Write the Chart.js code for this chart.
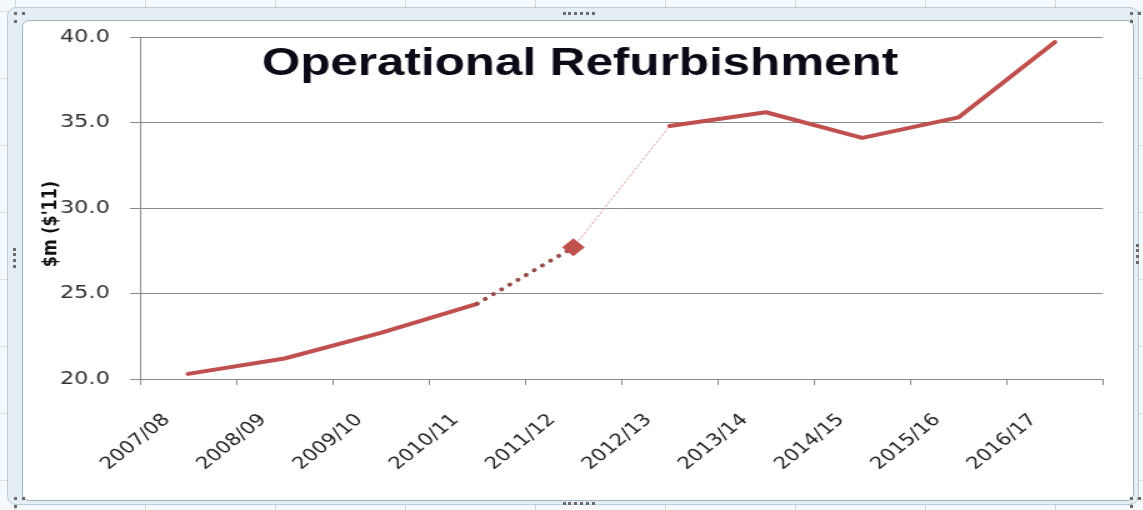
<!DOCTYPE html>
<html>
<head>
<meta charset="utf-8">
<script src="https://cdn.jsdelivr.net/npm/chart.js@4"></script>
<style>
  html, body { margin: 0; padding: 0; }
  body {
    width: 1143px; height: 510px; overflow: hidden; position: relative;
    background-color: #f6f9fb;
    background-image:
      linear-gradient(to right, #c9d8e2 1px, transparent 1px),
      linear-gradient(to bottom, #d3e0e8 1px, transparent 1px);
    background-size: 130px 67px;
    background-position: 15px 11px;
  }
  .band {
    position: absolute; left: 7px; top: 7px; width: 1132px; height: 498px;
    background: #e4eef4; border: 1px solid #b9cdd9; border-radius: 9px;
    box-sizing: border-box;
  }
  .frame {
    position: absolute; left: 22px; top: 20px; width: 1112px; height: 481px;
    background: #fff; border: 1.5px solid #9eb2bf; border-radius: 7px;
    box-sizing: border-box;
  }
  .grip { position: absolute; border-color: #6b6b6b; }
  .grip.h { width: 32px; height: 0; border-top: 3px dotted #6b6b6b; }
  .grip.v { width: 0; height: 20px; border-left: 3px dotted #6b6b6b; }
  .grip.c { width: 8px; height: 8px; border-top: 3px dotted #6b6b6b; border-left: 3px dotted #6b6b6b; }
  #wrap {
    position: absolute; left: 0; top: 0; width: 914px; height: 510px;
    transform: scaleX(1.25); transform-origin: 0 0;
  }
</style>
</head>
<body>
<div class="band"></div>
<div class="frame"></div>
<div class="grip h" style="left:563px; top:12px;"></div>
<div class="grip h" style="left:563px; top:502px;"></div>
<div class="grip v" style="left:13px; top:248px;"></div>
<div class="grip v" style="left:1136px; top:244px;"></div>
<div class="grip c" style="left:14px; top:12px;"></div>
<div class="grip c" style="left:1130px; top:12px;"></div>
<div class="grip c" style="left:14px; top:497px;"></div>
<div class="grip c" style="left:1130px; top:497px;"></div>
<div id="wrap"><canvas id="myChart"></canvas></div>
<script>
const years = ['2007/08', '2008/09', '2009/10', '2010/11', '2011/12',
               '2012/13', '2013/14', '2014/15', '2015/16', '2016/17'];
const refurbCost = [20.3, 21.2, 22.7, 24.4, 27.7, 34.8, 35.6, 34.1, 35.3, 39.7];
const yTicks = [20, 25, 30, 35, 40];
const chartTitle = 'Operational Refurbishment';
const yAxisTitle = "$m ($'11)";

const RED = '#c0504d';

// 2010/11 -> 2011/12 is a dotted link, 2011/12 -> 2012/13 a faint thin one
function segColor(ctx) {
  if (ctx.p0DataIndex === 3) return '#9a4f4c';
  if (ctx.p0DataIndex === 4) return '#e0a3a1';
  return RED;
}
function segWidth(ctx) {
  if (ctx.p0DataIndex === 3) return 4;
  if (ctx.p0DataIndex === 4) return 1;
  return 4;
}
function segDash(ctx) {
  if (ctx.p0DataIndex === 3) return [0.1, 8];
  if (ctx.p0DataIndex === 4) return [2, 2];
  return [];
}

// titles sit inside the plot like the spreadsheet chart
const overlayText = {
  id: 'overlayText',
  afterDraw(chart) {
    const c = chart.ctx;
    c.save();
    c.fillStyle = '#0b0b18';
    c.font = 'bold 39.5px "Liberation Sans"';
    c.textAlign = 'center';
    c.textBaseline = 'alphabetic';
    c.fillText(chartTitle, 464, 75);

    c.translate(41, 224);
    c.rotate(-Math.PI / 2);
    c.font = 'bold 16px "DejaVu Sans"';
    c.textBaseline = 'middle';
    c.fillStyle = '#111';
    c.fillText(yAxisTitle, 0, 0);
    c.restore();
  }
};

const config = {
  type: 'line',
  data: {
    labels: years,
    datasets: [{
      label: 'Operational Refurbishment',
      data: refurbCost,
      borderColor: RED,
      borderWidth: 4,
      borderCapStyle: 'round',
      borderJoinStyle: 'round',
      tension: 0,
      pointRadius: refurbCost.map((v, i) => i === 4 ? 8.5 : 0),
      pointHoverRadius: refurbCost.map((v, i) => i === 4 ? 8.5 : 0),
      pointStyle: 'rectRot',
      pointBackgroundColor: RED,
      pointBorderColor: RED,
      pointBorderWidth: 1,
      segment: {
        borderColor: segColor,
        borderWidth: segWidth,
        borderDash: segDash
      }
    }]
  },
  options: {
    responsive: true,
    maintainAspectRatio: false,
    animation: false,
    layout: { padding: { left: 0, top: 37, right: 31.6, bottom: 0 } },
    plugins: {
      legend: { display: false },
      title: { display: false },
      tooltip: { enabled: false }
    },
    scales: {
      x: {
        offset: true,
        grid: {
          offset: true,
          drawOnChartArea: false,
          drawTicks: true,
          tickLength: 6,
          color: '#8a8a8a'
        },
        border: { display: true, color: '#8a8a8a', width: 1 },
        ticks: {
          autoSkip: false,
          minRotation: 45,
          maxRotation: 45,
          padding: 25,
          labelOffset: -17,
          color: '#222',
          font: { family: 'DejaVu Sans', size: 17 }
        },
        afterFit(scale) { scale.height = 131; }
      },
      y: {
        min: 20,
        max: 40,
        afterBuildTicks(scale) { scale.ticks = yTicks.map(v => ({ value: v })); },
        grid: {
          color: '#8a8a8a',
          lineWidth: 1,
          drawTicks: true,
          tickLength: 8
        },
        border: { display: true, color: '#8a8a8a', width: 1 },
        ticks: {
          padding: 16,
          color: '#333',
          font: { family: 'DejaVu Sans', size: 18 },
          callback: v => Number(v).toFixed(1)
        },
        afterFit(scale) { scale.width = 112; }
      }
    }
  },
  plugins: [overlayText]
};

const ctx = document.getElementById('myChart').getContext('2d');
const myChart = new Chart(ctx, config);
</script>
</body>
</html>
